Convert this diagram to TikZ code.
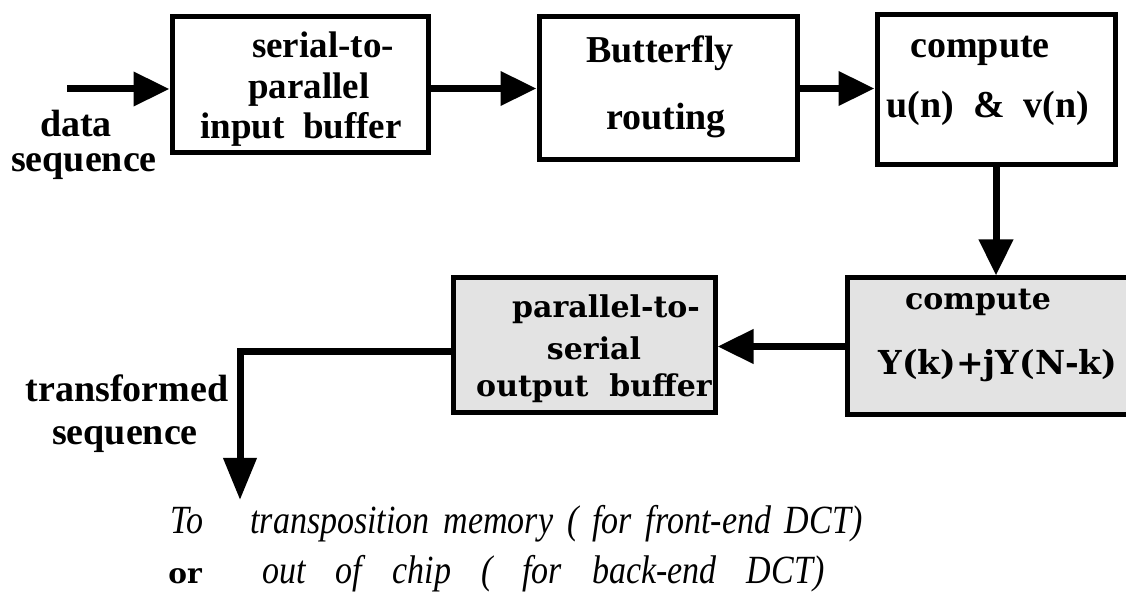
\documentclass[tikz,border=0pt]{standalone}
\usepackage{fontspec}
\setmainfont{Liberation Serif}
\newfontfamily\centfont{DejaVu Serif}
\newfontfamily\itfont[FakeStretch=0.85]{Liberation Serif Italic}
\usetikzlibrary{arrows.meta}
\begin{document}
\begin{tikzpicture}[x=0.5pt,y=-0.5pt,
  box/.style={draw, line width=2.5pt, inner sep=0pt},
  shadebox/.style={fill=black!11},
  conn/.style={line width=3.5pt, -{Triangle[length=18pt,width=16.5pt]}},
  conndown/.style={line width=3.5pt, -{Triangle[length=21pt,width=16pt]}},
  tb/.style={anchor=base, inner sep=0pt, font=\bfseries\fontsize{19}{19}\selectfont},
  tbs/.style={anchor=base, inner sep=0pt, font=\bfseries\fontsize{18.5}{18.5}\selectfont},
  cb/.style={anchor=base, inner sep=0pt, font=\centfont\bfseries\fontsize{15}{15}\selectfont},
  ti/.style={anchor=base west, inner sep=0pt, font=\itfont\fontsize{20}{20}\selectfont}]
\path[use as bounding box] (0,0) rectangle (1126,593);
\clip (0,0) rectangle (1126,593);

% boxes
\node[box, minimum width=128pt, minimum height=68pt] (b1) at (300,85) {};
\node[box, minimum width=129pt, minimum height=71.5pt] (b2) at (668,88.5) {};
\node[box, minimum width=119pt, minimum height=75pt] (b3) at (996,90) {};
\node[box, shadebox, minimum width=146.5pt, minimum height=68.5pt] (b4) at (993.5,346.5) {};
\node[box, shadebox, minimum width=131pt, minimum height=67.5pt] (b5) at (584,345.5) {};

% texts in boxes
\node[tbs] (t1a) at (323,58) {serial-to-};
\node[tbs] (t1b) at (309,99) {parallel};
\node[tbs] (t1c) at (301,139) {input\ \ buffer};
\node[tb] (t2a) at (660,63) {Butterfly};
\node[tb] (t2b) at (666,130) {routing};
\node[tb] (t3a) at (980,58) {compute};
\node[tb] (t3b) at (988,118) {u(n)\ \ \&\ \ v(n)};
\node[cb] (t4a) at (978,310) {compute};
\node[cb, font=\centfont\bfseries\fontsize{16.5}{16.5}\selectfont] (t4b) at (998,375) {Y(k)+jY(N-k)};
\node[cb] (t5a) at (606,318) {parallel-to-};
\node[cb] (t5b) at (594,360) {serial};
\node[cb] (t5c) at (594,397) {output\ \ buffer};

% side labels
\node[tb] (ds1) at (76,137) {data};
\node[tb] (ds2) at (84,172) {sequence};
\node[tb] (ts1) at (127,402) {transformed};
\node[tb] (ts2) at (125,445) {sequence};

% bottom text
\node[ti] (n1) at (170,534) {To};
\node[ti] (n2) at (250,534) {\makebox[306pt][s]{transposition memory ( for front-end DCT)}};
\node[anchor=base west, inner sep=0pt, font=\centfont\bfseries\fontsize{14}{14}\selectfont] (n3) at (168,583) {or};
\node[ti] (n4) at (262,583) {\makebox[281pt][s]{out of chip ( for back-end DCT)}};

% connectors
\coordinate (in) at (67,89);
\coordinate (out) at (240,500);
\draw[conn] (in) -- (in -| b1.west);
\draw[conn] (b1.east |- b2.west) -- (b2.west);
\draw[conn] (b2.east) -- (b2.east -| b3.west);
\draw[conn] (b3.south) -- (b3.south |- b4.north);
\draw[conn] (b4.west) -- (b4.west -| b5.east);
\draw[conndown] ([yshift=-3pt]b5.west) -| (out);
\end{tikzpicture}
\end{document}
